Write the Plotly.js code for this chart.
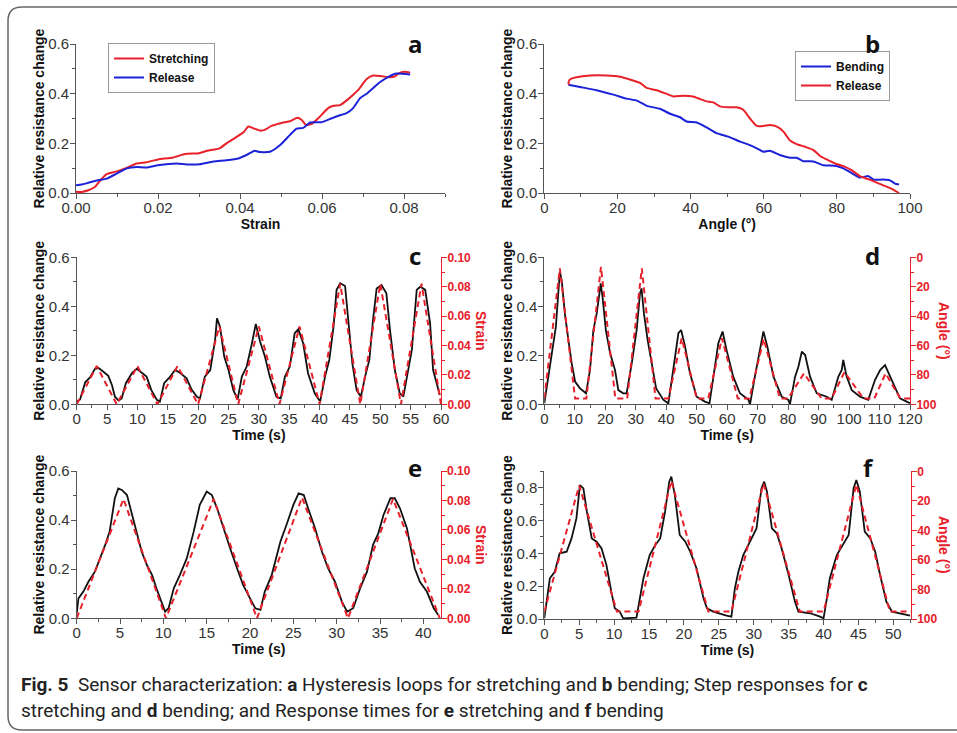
<!DOCTYPE html>
<html><head><meta charset="utf-8">
<script src="https://cdn.plot.ly/plotly-3.0.1.min.js"></script>
<style>html,body{margin:0;padding:0;background:#fff;}#chart{width:957px;height:733px;}</style>
</head><body><div id="chart"></div>
<script>
// ---------- Panel a: hysteresis, stretching ----------
const aStretchStrain = [0,0.0014,0.003,0.0046,0.0063,0.0075,0.0095,0.012,0.0148,0.0172,0.02,0.0237,0.0266,0.030,0.032,0.035,0.0367,0.039,0.041,0.042,0.0432,0.045,0.046,0.0477,0.0506,0.0522,0.054,0.055,0.0561,0.0575,0.0591,0.0615,0.0628,0.0644,0.0664,0.0689,0.0709,0.0725,0.0746,0.0766,0.0778,0.079,0.0802,0.0815];
const aStretchR = [0.005,0.004,0.011,0.024,0.058,0.076,0.085,0.099,0.119,0.124,0.135,0.143,0.157,0.16,0.17,0.18,0.2,0.224,0.247,0.268,0.261,0.251,0.254,0.27,0.284,0.289,0.303,0.295,0.274,0.278,0.301,0.342,0.351,0.354,0.378,0.416,0.459,0.473,0.47,0.466,0.47,0.484,0.488,0.484];
const aReleaseStrain = [0.0815,0.0782,0.0762,0.0741,0.0725,0.0709,0.0693,0.0676,0.066,0.064,0.0624,0.0599,0.0571,0.0554,0.0538,0.0522,0.0498,0.0473,0.0448,0.0436,0.0416,0.0396,0.0367,0.0335,0.0302,0.027,0.0246,0.02,0.0172,0.0148,0.0124,0.0099,0.0075,0.0054,0.003,0.0014,0];
const aReleaseR = [0.477,0.481,0.468,0.446,0.423,0.4,0.382,0.342,0.322,0.311,0.301,0.285,0.284,0.262,0.259,0.234,0.193,0.166,0.165,0.17,0.153,0.139,0.132,0.127,0.116,0.115,0.119,0.112,0.103,0.105,0.099,0.078,0.058,0.051,0.041,0.034,0.031];

// ---------- Panel b: hysteresis, bending ----------
const bBendAngle = [6.6,9.75,14.3,18.9,22.5,25.3,28,31.6,34.4,37.1,38.9,41.7,44.4,47.1,50.3,53.5,56.2,58.5,59.9,61.7,64.4,67.2,69,70.8,73.6,76.3,79.9,81.8,84.5,86.3,88.6,90,92.7,94.5,95.9,97.0];
const bBendR = [0.436,0.427,0.414,0.396,0.38,0.372,0.351,0.339,0.319,0.305,0.288,0.284,0.264,0.241,0.227,0.207,0.193,0.177,0.166,0.17,0.153,0.142,0.142,0.128,0.127,0.112,0.109,0.099,0.076,0.062,0.068,0.054,0.054,0.051,0.038,0.034];
const bReleaseAngle = [97.0,95.4,92.7,89.5,86.3,84,81.8,79.5,77.2,75.4,73.6,71.3,69,67.2,65.4,63.5,61.7,59.9,58.1,56.2,54.4,52.6,50.3,48,46.2,44.4,42.6,40.7,38,35.3,33.5,30.7,28,26.2,23.4,20.7,17,12.5,8.8,7,6.6,6.8];
const bReleaseR = [0,0.014,0.031,0.051,0.068,0.092,0.108,0.119,0.135,0.149,0.173,0.186,0.197,0.211,0.247,0.268,0.274,0.27,0.27,0.301,0.335,0.345,0.345,0.349,0.365,0.369,0.378,0.389,0.392,0.389,0.399,0.414,0.423,0.443,0.457,0.468,0.473,0.473,0.466,0.457,0.443,0.436];

// ---------- Panel c: step response, stretching ----------
const cTime = [0,0.55,1.4,2.2,3.0,3.6,4.4,5.2,5.8,6.3,6.9,7.4,8.1,9.1,9.9,10.7,11.5,12.3,13.2,13.7,14.4,15.4,16.2,17.0,18.1,18.9,19.8,20.3,21.1,22.0,22.8,23.1,23.6,24.3,25.0,25.8,26.5,27.2,28.0,28.8,29.5,30.2,31.0,31.8,32.9,33.6,34.3,35.1,35.9,36.5,37.3,38.1,39.2,40.1,40.9,41.6,42.3,42.8,43.4,44.2,44.7,45.4,46.1,46.8,47.5,48.2,48.8,49.4,50.2,51.0,51.6,52.4,53.2,53.8,54.4,55.2,56.0,56.6,57.4,58.2,58.7,59.8];
const cR = [0.01,0.02,0.09,0.11,0.145,0.148,0.133,0.116,0.079,0.031,0.015,0.024,0.086,0.127,0.145,0.129,0.113,0.058,0.018,0.011,0.086,0.113,0.14,0.129,0.106,0.061,0.031,0.024,0.113,0.14,0.263,0.351,0.317,0.195,0.14,0.058,0.02,0.113,0.154,0.242,0.328,0.256,0.195,0.113,0.031,0.024,0.113,0.154,0.29,0.306,0.249,0.127,0.045,0.011,0.113,0.181,0.317,0.467,0.494,0.483,0.344,0.167,0.058,0.031,0.113,0.181,0.344,0.473,0.487,0.453,0.303,0.14,0.045,0.031,0.113,0.222,0.467,0.48,0.467,0.331,0.14,0.038];
const cStrainTime = [0,3.3,6.6,10,13.3,16.6,20,23.5,26.6,30,33.4,36.7,40,43.4,46.7,50,53.4,56.8,60];
const cStrain = [0,0.026,0,0.026,0,0.026,0,0.053,0,0.053,0,0.053,0,0.082,0,0.082,0,0.082,0];

// ---------- Panel d: step response, bending ----------
const dTime = [0,1.3,3.0,3.8,4.8,5.1,5.7,6.8,7.9,9.0,10.1,11.7,13.7,15,16.1,17.2,18.1,18.5,19.1,20.2,21.6,23.2,24.3,25.9,27,28.7,30.3,31.4,31.9,32.7,33.9,35.2,36.7,39.1,40.7,42.3,44,44.9,46.2,47.8,50,52.7,54.2,55.5,57.1,58.5,59.8,62,64.2,67,67.5,69.1,70.8,71.9,73.2,75.2,77.9,80.1,80.6,82.3,83.4,84.5,85.6,87.2,89.4,92.7,94.3,96.5,97.6,98.1,99.2,100.9,103.6,106.3,108.5,110.2,111.8,113.5,115.6,116.7,118.9,120];
const dR = [0.004,0.113,0.263,0.317,0.49,0.541,0.507,0.365,0.263,0.167,0.093,0.065,0.045,0.14,0.303,0.371,0.453,0.494,0.439,0.303,0.208,0.14,0.058,0.045,0.045,0.167,0.303,0.453,0.473,0.371,0.263,0.167,0.065,0.018,0.004,0.14,0.29,0.303,0.235,0.127,0.031,0.011,0.004,0.113,0.249,0.297,0.222,0.113,0.045,0.018,0.0,0.113,0.235,0.297,0.235,0.113,0.031,0.018,0,0.113,0.154,0.215,0.201,0.113,0.045,0.031,0.018,0.113,0.14,0.181,0.113,0.058,0.031,0.018,0.099,0.14,0.16,0.113,0.058,0.024,0.011,0.004];
const dAngleTime = [0,5.1,10.1,13.8,18.6,23.3,27.2,32,36.5,40.7,45.1,50,53.8,58.3,63.5,67.3,72,77.3,80,85.2,91,94.3,98.5,104.7,108.3,112,116.8,120];
const dAngle = [96,7.5,96,96,6.5,96,96,7.5,96,96,55,96,96,55,96,96,55.5,96,96,79,96,96,78,96,96,79,96,96];

// ---------- Panel e: response time, stretching ----------
const eTime = [0,0.2,0.77,1.35,2.1,2.7,3.3,3.8,4.4,4.8,5.2,5.8,6.3,6.9,7.5,8.1,8.7,9.2,9.8,10.2,10.6,11.2,11.9,12.7,13.5,14.2,15,15.6,16.2,16.9,17.7,18.5,19.2,20,20.6,21.2,21.7,22.5,23.5,24.2,25,25.6,26.2,26.7,27.5,28.3,29,29.8,30.6,31.2,31.9,32.7,33.5,34.2,34.8,35.4,36.2,36.7,37.3,38.1,39,39.6,40.4,41.2,41.7];
const eR = [0.02,0.081,0.109,0.149,0.19,0.244,0.3,0.353,0.489,0.529,0.523,0.502,0.434,0.353,0.271,0.217,0.176,0.122,0.068,0.027,0.041,0.122,0.176,0.244,0.353,0.462,0.516,0.502,0.448,0.367,0.285,0.204,0.136,0.081,0.041,0.034,0.109,0.176,0.312,0.38,0.462,0.509,0.502,0.448,0.367,0.271,0.204,0.149,0.068,0.027,0.041,0.122,0.19,0.3,0.346,0.421,0.489,0.489,0.448,0.367,0.204,0.149,0.109,0.041,0.014];
const eStrainTime = [0,5.4,10.3,15.8,20.8,26,31.3,36.5,41.9];
const eStrain = [0,0.081,0,0.081,0,0.082,0,0.081,0];

// ---------- Panel f: response time, bending ----------
const fTime = [0,0.33,0.8,1.5,2.2,3.2,3.9,4.6,5.1,5.6,6.1,6.8,7.5,8.2,8.9,9.6,10.1,10.8,11.3,13.2,13.7,14.2,15.1,15.9,16.6,17.3,17.9,18.2,18.7,19.4,20.2,20.9,21.8,22.8,23.3,24.2,26.1,26.8,27.3,27.8,28.5,29.5,30.4,31.1,31.5,31.9,32.6,33.3,34,35,35.9,36.4,38.1,39.5,40,40.4,40.9,41.9,42.8,43.6,44.3,44.7,45.2,45.9,46.7,47.4,48.1,49,49.8,51,52.4];
const fR = [0.004,0.106,0.248,0.288,0.4,0.41,0.491,0.613,0.816,0.796,0.654,0.491,0.471,0.43,0.329,0.166,0.065,0.045,0.004,0.008,0.126,0.248,0.39,0.451,0.491,0.654,0.837,0.867,0.755,0.512,0.471,0.41,0.309,0.126,0.065,0.045,0.02,0.014,0.187,0.288,0.39,0.471,0.552,0.796,0.837,0.776,0.552,0.522,0.43,0.268,0.106,0.045,0.035,0.014,0.004,0.106,0.248,0.39,0.451,0.512,0.796,0.847,0.776,0.532,0.491,0.41,0.268,0.106,0.045,0.035,0.02];
const fAngleTime = [0,5.0,10.4,13.5,18.2,23.5,26.8,31.4,36.6,40,44.7,49.5,52.5];
const fAngle = [95,9.6,95,95,6.5,95,95,8.3,95,95,9,95,95];

// ---------- text ----------
const yTitle = 'Relative resistance change';
const panelLetters = ['a','b','c','d','e','f'];
const captionLine1 = '<b>Fig. 5</b>\u00a0\u00a0Sensor characterization: <b>a</b> Hysteresis loops for stretching and <b>b</b> bending; Step responses for <b>c</b>';
const captionLine2 = 'stretching and <b>d</b> bending; and Response times for <b>e</b> stretching and <b>f</b> bending';

// ---------- layout helpers (pixel -> paper) ----------
const W = 957, H = 733;
const px = v => v / W;
const py = v => 1 - v / H;
const RED = '#e8202a', BLUE = '#1c22d8', AX = '#555';
const tickFont = {family: 'Liberation Sans, Arial, sans-serif', size: 15, color: '#333'};
const titleFont = {family: 'Liberation Sans, Arial, sans-serif', size: 14, color: '#111', weight: 'bold'};

function xAxis(dom, yanchor, range, dtick, minor, title, fmt) {
  return {domain: dom, anchor: yanchor, range: range, dtick: dtick, tick0: 0, tickformat: fmt || '',
    showline: true, linecolor: AX, linewidth: 1, ticks: 'outside', ticklen: 5, tickcolor: AX, ticklabelstandoff: -4,
    minor: {ticks: 'outside', ticklen: 3, dtick: minor, tick0: 0, tickcolor: AX, showgrid: false},
    showgrid: false, zeroline: false, tickfont: tickFont,
    title: {text: title, font: titleFont, standoff: 0}};
}
function yAxis(dom, xanchor, range, dtick, minor, fmt) {
  return {domain: dom, anchor: xanchor, range: range, dtick: dtick, tick0: 0, tickformat: fmt,
    showline: true, linecolor: AX, linewidth: 1, ticks: 'outside', ticklen: 5, tickcolor: AX, ticklabelstandoff: -2,
    minor: {ticks: 'outside', ticklen: 3, dtick: minor, tick0: 0, tickcolor: AX, showgrid: false},
    showgrid: false, zeroline: false, tickfont: tickFont,
    title: {text: yTitle, font: titleFont, standoff: 0}};
}
function yRight(over, xanchor, range, dtick, minor, fmt) {
  return {overlaying: over, anchor: xanchor, side: 'right', range: range, dtick: dtick, tick0: 0, tickformat: fmt,
    showline: true, linecolor: RED, linewidth: 1, ticks: 'outside', ticklen: 5, tickcolor: RED, ticklabelstandoff: -2,
    minor: {ticks: 'outside', ticklen: 3, dtick: minor, tick0: 0, tickcolor: RED, showgrid: false},
    showgrid: false, zeroline: false,
    tickfont: {family: 'Liberation Sans, Arial, sans-serif', size: 12, color: RED, weight: 'bold'}};
}

const domA = {x: [px(76), px(445)], y: [py(193), py(44)]};
const domB = {x: [px(544.3), px(910)], y: [py(193), py(44)]};
const domC = {x: [px(76.7), px(441)], y: [py(404.3), py(257.3)]};
const domD = {x: [px(544.3), px(910)], y: [py(404.3), py(257.3)]};
const domE = {x: [px(76.7), px(440.7)], y: [py(618.3), py(471)]};
const domF = {x: [px(544.3), px(910.8)], y: [py(619), py(471.3)]};

const blackLine = {color: '#111', width: 1.8};
const redDash = {color: RED, width: 2, dash: '6px,4px'};

const traces = [
  {x: aStretchStrain, y: aStretchR, xaxis: 'x', yaxis: 'y', mode: 'lines', name: 'Stretching', legend: 'legend', line: {color: RED, width: 2, shape: 'spline', smoothing: 0.5}},
  {x: aReleaseStrain, y: aReleaseR, xaxis: 'x', yaxis: 'y', mode: 'lines', name: 'Release', legend: 'legend', line: {color: BLUE, width: 2, shape: 'spline', smoothing: 0.5}},
  {x: bBendAngle, y: bBendR, xaxis: 'x2', yaxis: 'y2', mode: 'lines', name: 'Bending', legend: 'legend2', line: {color: BLUE, width: 2, shape: 'spline', smoothing: 0.5}},
  {x: bReleaseAngle, y: bReleaseR, xaxis: 'x2', yaxis: 'y2', mode: 'lines', name: 'Release', legend: 'legend2', line: {color: RED, width: 2, shape: 'spline', smoothing: 0.5}},
  {x: cTime, y: cR, xaxis: 'x3', yaxis: 'y3', mode: 'lines', showlegend: false, line: blackLine},
  {x: cStrainTime, y: cStrain, xaxis: 'x3', yaxis: 'y4', mode: 'lines', showlegend: false, line: redDash},
  {x: dTime, y: dR, xaxis: 'x4', yaxis: 'y5', mode: 'lines', showlegend: false, line: blackLine},
  {x: dAngleTime, y: dAngle, xaxis: 'x4', yaxis: 'y6', mode: 'lines', showlegend: false, line: redDash},
  {x: eTime, y: eR, xaxis: 'x5', yaxis: 'y7', mode: 'lines', showlegend: false, line: blackLine},
  {x: eStrainTime, y: eStrain, xaxis: 'x5', yaxis: 'y8', mode: 'lines', showlegend: false, line: redDash},
  {x: fTime, y: fR, xaxis: 'x6', yaxis: 'y9', mode: 'lines', showlegend: false, line: blackLine},
  {x: fAngleTime, y: fAngle, xaxis: 'x6', yaxis: 'y10', mode: 'lines', showlegend: false, line: redDash}
];

const legendStyle = (x, y) => ({x: x, y: y, xanchor: 'left', yanchor: 'top', bgcolor: '#fff', bordercolor: '#999', borderwidth: 1,
  font: {family: 'Liberation Sans, Arial, sans-serif', size: 12, color: '#111', weight: 'bold'}, itemwidth: 30, tracegroupgap: 0});

const annFont = {family: 'Open Sans, Liberation Sans, sans-serif', size: 24, color: '#111', weight: 'bold'};
const letterPos = [[415,43],[872,43],[415,255],[872,255],[415,468],[868,468]];
const annotations = panelLetters.map((t, i) => ({text: t, xref: 'paper', yref: 'paper', x: px(letterPos[i][0]), y: py(letterPos[i][1]), xanchor: 'center', yanchor: 'middle', showarrow: false, font: annFont}));
const rtFont = {family: 'Liberation Sans, Arial, sans-serif', size: 14, color: RED, weight: 'bold'};
[['Strain', 481, 331], ['Angle (°)', 944, 331], ['Strain', 481, 545], ['Angle (°)', 944, 545]].forEach(r => {
  annotations.push({text: r[0], xref: 'paper', yref: 'paper', x: px(r[1]), y: py(r[2]), xanchor: 'center', yanchor: 'middle', textangle: 90, showarrow: false, font: rtFont});
});
const capFont = {family: 'Roboto, sans-serif', size: 19, color: '#222'};
annotations.push({text: captionLine1, xref: 'paper', yref: 'paper', x: px(19), y: py(684), xanchor: 'left', yanchor: 'middle', showarrow: false, font: capFont});
annotations.push({text: captionLine2, xref: 'paper', yref: 'paper', x: px(19), y: py(710), xanchor: 'left', yanchor: 'middle', showarrow: false, font: capFont});

const r = 14;
const border = 'M ' + px(970) + ',' + py(7) + ' L ' + px(8 + r) + ',' + py(7) + ' Q ' + px(8) + ',' + py(7) + ' ' + px(8) + ',' + py(7 + r) +
  ' L ' + px(8) + ',' + py(730 - r) + ' Q ' + px(8) + ',' + py(730) + ' ' + px(8 + r) + ',' + py(730) + ' L ' + px(970) + ',' + py(730);

const layout = {
  width: W, height: H, margin: {l: 0, r: 0, t: 0, b: 0}, paper_bgcolor: '#fff', plot_bgcolor: 'rgba(0,0,0,0)',
  font: {family: 'Liberation Sans, Arial, sans-serif'},
  xaxis: xAxis(domA.x, 'y', [0, 0.09], 0.02, 0.01, 'Strain', '.2f'),
  yaxis: yAxis(domA.y, 'x', [0, 0.6], 0.2, 0.1, '.1f'),
  xaxis2: xAxis(domB.x, 'y2', [0, 100], 20, 10, 'Angle (°)'),
  yaxis2: yAxis(domB.y, 'x2', [0, 0.6], 0.2, 0.1, '.1f'),
  xaxis3: xAxis(domC.x, 'y3', [0, 60], 5, 2.5, 'Time (s)'),
  yaxis3: yAxis(domC.y, 'x3', [0, 0.6], 0.2, 0.1, '.1f'),
  yaxis4: yRight('y3', 'x3', [0, 0.1], 0.02, 0.01, '.2f'),
  xaxis4: xAxis(domD.x, 'y5', [0, 120], 10, 5, 'Time (s)'),
  yaxis5: yAxis(domD.y, 'x4', [0, 0.6], 0.2, 0.1, '.1f'),
  yaxis6: yRight('y5', 'x4', [100, 0], 20, 10, 'd'),
  xaxis5: xAxis(domE.x, 'y7', [0, 42], 5, 2.5, 'Time (s)'),
  yaxis7: yAxis(domE.y, 'x5', [0, 0.6], 0.2, 0.1, '.1f'),
  yaxis8: yRight('y7', 'x5', [0, 0.1], 0.02, 0.01, '.2f'),
  xaxis6: xAxis(domF.x, 'y9', [0, 52.5], 5, 2.5, 'Time (s)'),
  yaxis9: yAxis(domF.y, 'x6', [0, 0.9], 0.2, 0.1, '.1f'),
  yaxis10: yRight('y9', 'x6', [100, 0], 20, 10, 'd'),
  legend: legendStyle(px(108), py(43)),
  legend2: legendStyle(px(795), py(51)),
  annotations: annotations,
  shapes: [{type: 'path', xref: 'paper', yref: 'paper', path: border, line: {color: '#666', width: 1.5}}]
};

Plotly.newPlot('chart', traces, layout, {staticPlot: true, displayModeBar: false});
</script>
</body></html>
